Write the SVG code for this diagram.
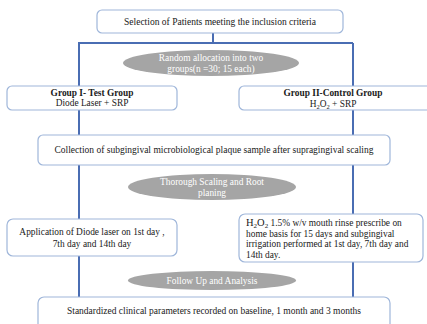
<svg xmlns="http://www.w3.org/2000/svg" width="427" height="324" viewBox="0 0 427 324">
<style>
.box{fill:#fff;stroke:#9fb6da;stroke-width:1.2}
.ell{fill:#a5a5a5}
.t{font-family:"Liberation Serif","Times New Roman",serif;font-size:9.4px;fill:#1a1a1a}
.b{font-weight:bold}
.w{fill:#fff}
.c{stroke:#4a6db3;stroke-width:2;fill:none}
</style>
<rect width="427" height="324" fill="#fff"/>
<g id="connectors">
<path class="c" d="M213 33V43M78 43H353M79 43V87M353 43V87M79 110V135M353 110V135M79 165V219M353 165V214M79 256V297M353 262V297"/>
</g>
<g id="selection">
<rect class="box" x="97" y="10" width="246" height="23" rx="5"/>
<text class="t" x="220" y="24.5" text-anchor="middle" textLength="192" lengthAdjust="spacingAndGlyphs">Selection of Patients meeting  the inclusion  criteria</text>
</g>
<g id="random">
<ellipse class="ell" cx="211" cy="63" rx="88" ry="13"/>
<text class="t w" x="211" y="61" text-anchor="middle">Random  allocation into two</text>
<text class="t w" x="211" y="72" text-anchor="middle">groups(n =30; 15 each)</text>
</g>
<g id="group1">
<rect class="box" x="7" y="86" width="170" height="24" rx="5"/>
<text class="t b" x="92" y="95.5" text-anchor="middle">Group I- Test Group</text>
<text class="t" x="92" y="106" text-anchor="middle">Diode Laser + SRP</text>
</g>
<g id="group2">
<rect class="box" x="239" y="86" width="194" height="24" rx="5"/>
<text class="t b" x="333" y="95.5" text-anchor="middle">Group II-Control Group</text>
<text class="t" x="333" y="106.5" text-anchor="middle">H<tspan font-size="6.5" dy="2">2</tspan><tspan dy="-2">O</tspan><tspan font-size="6.5" dy="2">2</tspan><tspan dy="-2"> + SRP</tspan></text>
</g>
<g id="collection">
<rect class="box" x="38" y="135" width="352" height="30" rx="5"/>
<text class="t" x="214" y="153" text-anchor="middle" textLength="319" lengthAdjust="spacingAndGlyphs">Collection of subgingival  microbiological  plaque sample after supragingival  scaling</text>
</g>
<g id="thorough">
<ellipse class="ell" cx="212" cy="187" rx="84" ry="13"/>
<text class="t w" x="212" y="184.5" text-anchor="middle">Thorough Scaling  and Root</text>
<text class="t w" x="212" y="195.5" text-anchor="middle">planing</text>
</g>
<g id="application">
<rect class="box" x="7" y="219" width="170" height="37" rx="6"/>
<text class="t" x="92" y="235" text-anchor="middle">Application  of Diode laser on 1st day ,</text>
<text class="t" x="92" y="246.5" text-anchor="middle">7th day and 14th day</text>
</g>
<g id="h2o2">
<rect class="box" x="239" y="214" width="184" height="48" rx="6"/>
<text class="t" x="246" y="226"><tspan font-size="10.5">H</tspan><tspan font-size="7" dy="2">2</tspan><tspan font-size="10.5" dy="-2">O</tspan><tspan font-size="7" dy="2">2</tspan><tspan dy="-2"> 1.5% w/v mouth rinse prescribe on</tspan></text>
<text class="t" x="246" y="236.5">home basis for 15 days and subgingival</text>
<text class="t" x="246" y="247">irrigation  performed at 1st day, 7th day and</text>
<text class="t" x="246" y="257.5">14th day.</text>
</g>
<g id="followup">
<ellipse class="ell" cx="212" cy="280.5" rx="84" ry="9.5"/>
<text class="t w" x="212" y="283.5" text-anchor="middle">Follow Up and Analysis</text>
</g>
<g id="standardized">
<rect class="box" x="38" y="297" width="352" height="34" rx="6"/>
<text class="t" x="214" y="314" text-anchor="middle" textLength="294" lengthAdjust="spacingAndGlyphs">Standardized clinical  parameters recorded on baseline,  1 month and 3 months</text>
</g>
</svg>
